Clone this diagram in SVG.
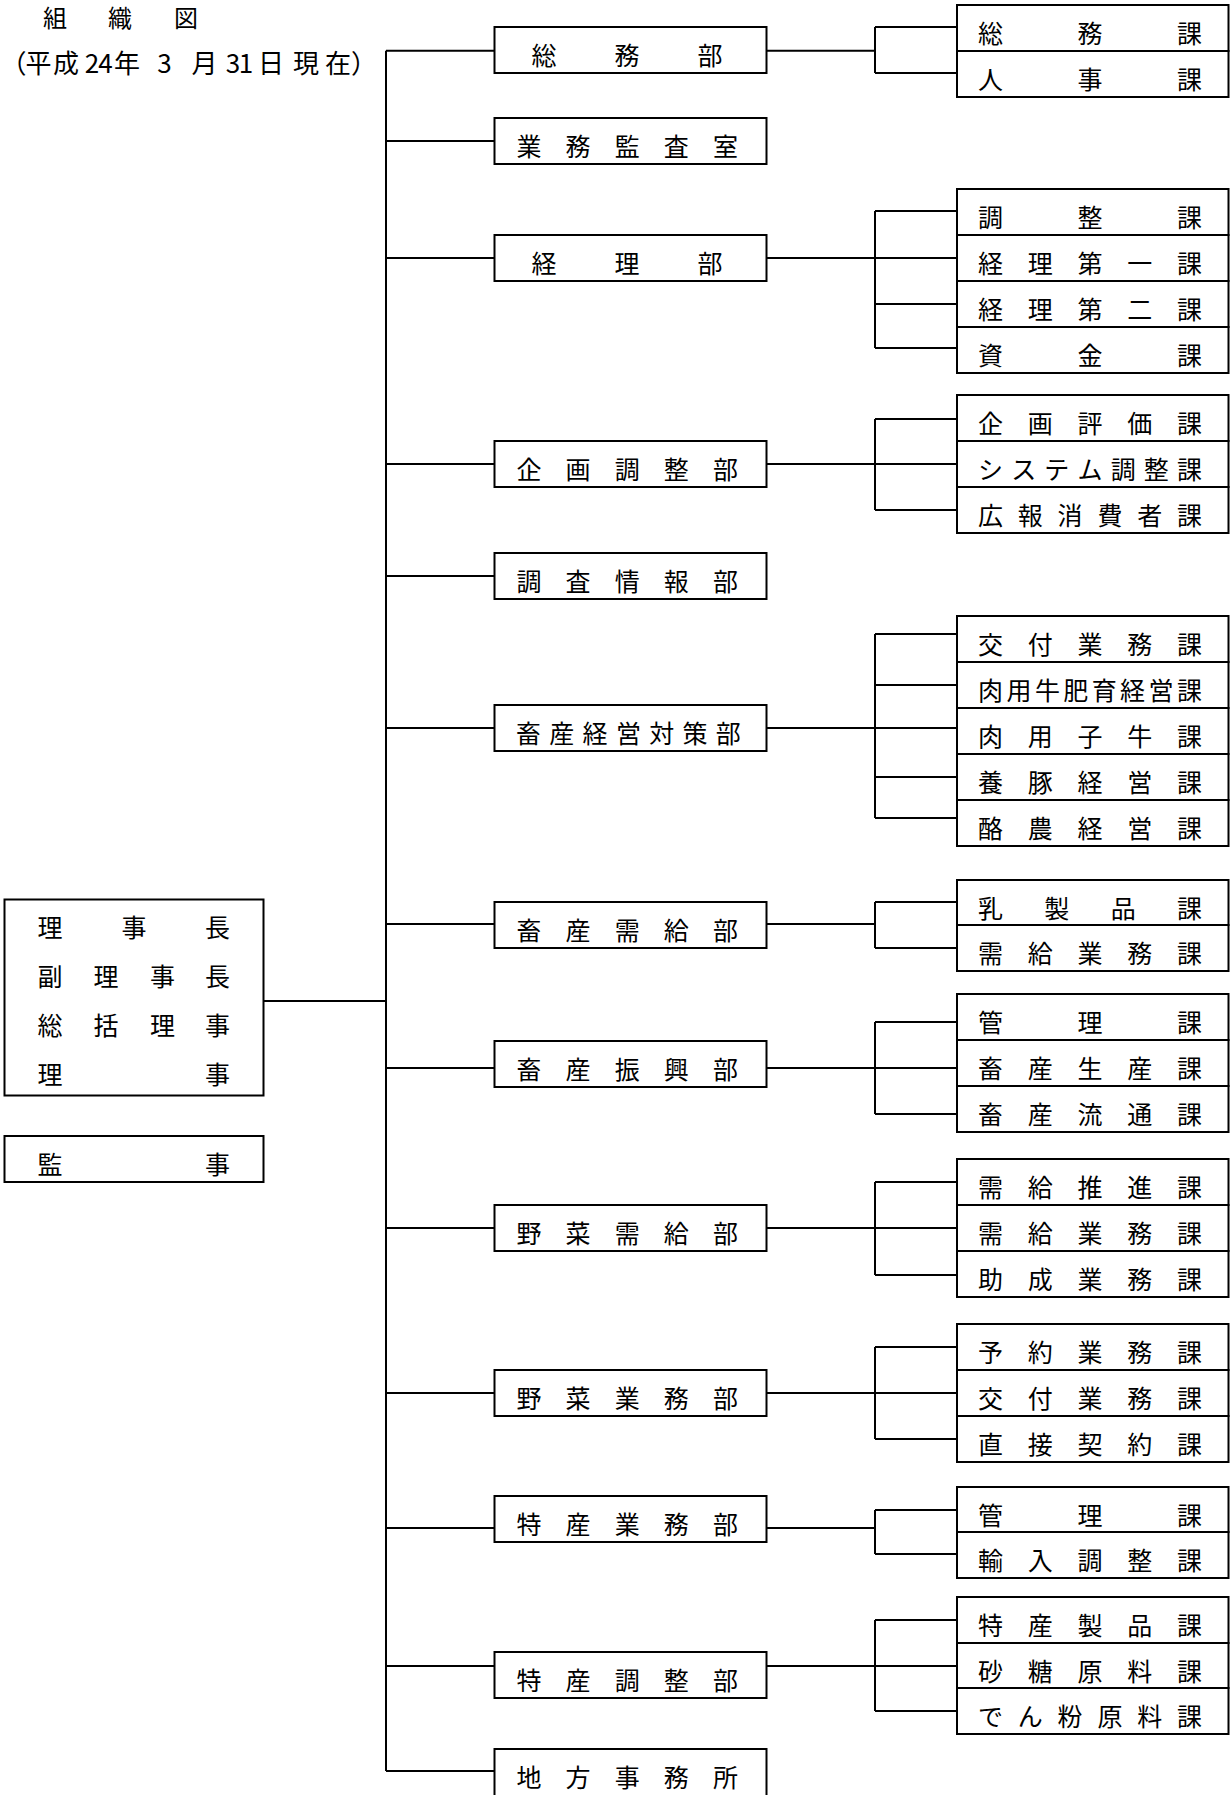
<svg xmlns="http://www.w3.org/2000/svg" width="1230" height="1795" viewBox="0 0 1230 1795">
<style>
rect{fill:#fff;stroke:#000;stroke-width:2}
text{font-family:"Noto Sans CJK JP","Noto Sans CJK SC",sans-serif;font-size:25px;fill:#000;text-anchor:middle}
.t{font-size:24px}
.d{font-size:26px}
#connectors path{fill:none;stroke:#000;stroke-width:2}
</style>
<g id="title">
<text class="t" x="55 120 186" y="27">組織図</text>
<text class="d" x="13.5 38.5 66 92 105.5 127 164.5 204.5 233 246 271 306 338 364" y="73">（平成24年3月31日現在）</text>
</g>
<g id="connectors">
<path d="M386 50.7V1771"/>
<path d="M263 1001H386"/>
<path d="M386 50.7H494M386 141H494M386 258H494M386 464H494M386 576H494M386 728H494M386 924H494M386 1068H494M386 1228H494M386 1393H494M386 1528H494M386 1666H494M386 1771H494"/>
<path d="M767 50.7H875M875 27V73M875 27H957M875 73H957"/>
<path d="M767 258H875M875 211V348M875 211H957M875 258H957M875 304H957M875 348H957"/>
<path d="M767 464H875M875 419V510M875 419H957M875 464H957M875 510H957"/>
<path d="M767 728H875M875 634V818M875 634H957M875 685H957M875 728H957M875 777H957M875 818H957"/>
<path d="M767 924H875M875 902V948M875 902H957M875 948H957"/>
<path d="M767 1068H875M875 1022V1114M875 1022H957M875 1068H957M875 1114H957"/>
<path d="M767 1228H875M875 1182V1275M875 1182H957M875 1228H957M875 1275H957"/>
<path d="M767 1393H875M875 1347V1439M875 1347H957M875 1393H957M875 1439H957"/>
<path d="M767 1528H875M875 1510V1554M875 1510H957M875 1554H957"/>
<path d="M767 1666H875M875 1620V1711M875 1620H957M875 1666H957M875 1711H957"/>
</g>
<g id="exec">
<rect x="4.5" y="899.5" width="259" height="196"/>
<text x="50 134 217.5" y="937">理事長</text>
<text x="50 106 162.5 217.5" y="986">副理事長</text>
<text x="50 106 162.5 217.5" y="1035">総括理事</text>
<text x="50 217.5" y="1084">理事</text>
</g>
<g id="auditor">
<rect x="4.5" y="1136" width="259" height="46"/>
<text x="50 217.5" y="1174">監事</text>
</g>
<g id="d-somu"><rect x="494.5" y="27" width="272" height="46"/><text x="544 627 710" y="64.5">総務部</text></g>
<g id="d-kansa"><rect x="494.5" y="118" width="272" height="46"/><text x="529 578.1 627.2 676.3 725.4" y="155.5">業務監査室</text></g>
<g id="d-keiri"><rect x="494.5" y="235" width="272" height="46"/><text x="544 627 710" y="272.5">経理部</text></g>
<g id="d-kikaku"><rect x="494.5" y="441" width="272" height="46"/><text x="529 578.1 627.2 676.3 725.4" y="478.5">企画調整部</text></g>
<g id="d-chosa"><rect x="494.5" y="553" width="272" height="46"/><text x="529 578.1 627.2 676.3 725.4" y="590.5">調査情報部</text></g>
<g id="d-chikusan-keiei"><rect x="494.5" y="705" width="272" height="46"/><text x="528.5 561.8 595.1 628.4 661.7 695 728.3" y="742.5">畜産経営対策部</text></g>
<g id="d-chikusan-jukyu"><rect x="494.5" y="902" width="272" height="46"/><text x="529 578.1 627.2 676.3 725.4" y="939.5">畜産需給部</text></g>
<g id="d-chikusan-shinko"><rect x="494.5" y="1041" width="272" height="46"/><text x="529 578.1 627.2 676.3 725.4" y="1078.5">畜産振興部</text></g>
<g id="d-yasai-jukyu"><rect x="494.5" y="1205" width="272" height="46"/><text x="529 578.1 627.2 676.3 725.4" y="1242.5">野菜需給部</text></g>
<g id="d-yasai-gyomu"><rect x="494.5" y="1370" width="272" height="46"/><text x="529 578.1 627.2 676.3 725.4" y="1407.5">野菜業務部</text></g>
<g id="d-tokusan-gyomu"><rect x="494.5" y="1496" width="272" height="46"/><text x="529 578.1 627.2 676.3 725.4" y="1533.5">特産業務部</text></g>
<g id="d-tokusan-chosei"><rect x="494.5" y="1652" width="272" height="46"/><text x="529 578.1 627.2 676.3 725.4" y="1689.5">特産調整部</text></g>
<g id="d-chiho"><rect x="494.5" y="1749" width="272" height="60"/><text x="529 578.1 627.2 676.3 725.4" y="1786.5">地方事務所</text></g>

<g id="s-somu"><rect x="957" y="5" width="271.5" height="46"/><text x="990.5 1090 1189.5" y="42.5">総務課</text></g>
<g id="s-jinji"><rect x="957" y="51" width="271.5" height="46"/><text x="990.5 1090 1189.5" y="88.5">人事課</text></g>

<g id="s-chosei"><rect x="957" y="189" width="271.5" height="46"/><text x="990.5 1090 1189.5" y="226.5">調整課</text></g>
<g id="s-keiri1"><rect x="957" y="235" width="271.5" height="46"/><text x="990.5 1040.3 1090 1139.8 1189.5" y="272.5">経理第一課</text></g>
<g id="s-keiri2"><rect x="957" y="281" width="271.5" height="46"/><text x="990.5 1040.3 1090 1139.8 1189.5" y="318.5">経理第二課</text></g>
<g id="s-shikin"><rect x="957" y="327" width="271.5" height="46"/><text x="990.5 1090 1189.5" y="364.5">資金課</text></g>

<g id="s-kikaku-hyoka"><rect x="957" y="395" width="271.5" height="46"/><text x="990.5 1040.3 1090 1139.8 1189.5" y="432.5">企画評価課</text></g>
<g id="s-system"><rect x="957" y="441" width="271.5" height="46"/><text x="990.5 1023.7 1056.8 1090 1123.2 1156.3 1189.5" y="478.5">システム調整課</text></g>
<g id="s-koho"><rect x="957" y="487" width="271.5" height="46"/><text x="990.5 1030.3 1070.1 1109.9 1149.7 1189.5" y="524.5">広報消費者課</text></g>

<g id="s-kofu1"><rect x="957" y="616" width="271.5" height="46"/><text x="990.5 1040.3 1090 1139.8 1189.5" y="653.5">交付業務課</text></g>
<g id="s-hiiku"><rect x="957" y="662" width="271.5" height="46"/><text x="990.5 1018.9 1047.4 1075.8 1104.2 1132.6 1161.1 1189.5" y="699.5">肉用牛肥育経営課</text></g>
<g id="s-koushi"><rect x="957" y="708" width="271.5" height="46"/><text x="990.5 1040.3 1090 1139.8 1189.5" y="745.5">肉用子牛課</text></g>
<g id="s-yoton"><rect x="957" y="754" width="271.5" height="46"/><text x="990.5 1040.3 1090 1139.8 1189.5" y="791.5">養豚経営課</text></g>
<g id="s-rakuno"><rect x="957" y="800" width="271.5" height="46"/><text x="990.5 1040.3 1090 1139.8 1189.5" y="837.5">酪農経営課</text></g>

<g id="s-nyuseihin"><rect x="957" y="880" width="271.5" height="45"/><text x="990.5 1056.8 1123.2 1189.5" y="917.5">乳製品課</text></g>
<g id="s-jukyu-gyomu1"><rect x="957" y="925" width="271.5" height="46"/><text x="990.5 1040.3 1090 1139.8 1189.5" y="962.5">需給業務課</text></g>

<g id="s-kanri1"><rect x="957" y="994" width="271.5" height="46"/><text x="990.5 1090 1189.5" y="1031.5">管理課</text></g>
<g id="s-seisan"><rect x="957" y="1040" width="271.5" height="46"/><text x="990.5 1040.3 1090 1139.8 1189.5" y="1077.5">畜産生産課</text></g>
<g id="s-ryutsu"><rect x="957" y="1086" width="271.5" height="46"/><text x="990.5 1040.3 1090 1139.8 1189.5" y="1123.5">畜産流通課</text></g>

<g id="s-suishin"><rect x="957" y="1159" width="271.5" height="46"/><text x="990.5 1040.3 1090 1139.8 1189.5" y="1196.5">需給推進課</text></g>
<g id="s-jukyu-gyomu2"><rect x="957" y="1205" width="271.5" height="46"/><text x="990.5 1040.3 1090 1139.8 1189.5" y="1242.5">需給業務課</text></g>
<g id="s-josei"><rect x="957" y="1251" width="271.5" height="46"/><text x="990.5 1040.3 1090 1139.8 1189.5" y="1288.5">助成業務課</text></g>

<g id="s-yoyaku"><rect x="957" y="1324" width="271.5" height="46"/><text x="990.5 1040.3 1090 1139.8 1189.5" y="1361.5">予約業務課</text></g>
<g id="s-kofu2"><rect x="957" y="1370" width="271.5" height="46"/><text x="990.5 1040.3 1090 1139.8 1189.5" y="1407.5">交付業務課</text></g>
<g id="s-chokusetsu"><rect x="957" y="1416" width="271.5" height="46"/><text x="990.5 1040.3 1090 1139.8 1189.5" y="1453.5">直接契約課</text></g>

<g id="s-kanri2"><rect x="957" y="1487" width="271.5" height="45"/><text x="990.5 1090 1189.5" y="1524.5">管理課</text></g>
<g id="s-yunyu"><rect x="957" y="1532" width="271.5" height="46"/><text x="990.5 1040.3 1090 1139.8 1189.5" y="1569.5">輸入調整課</text></g>

<g id="s-seihin"><rect x="957" y="1597" width="271.5" height="46"/><text x="990.5 1040.3 1090 1139.8 1189.5" y="1634.5">特産製品課</text></g>
<g id="s-sato"><rect x="957" y="1643" width="271.5" height="45"/><text x="990.5 1040.3 1090 1139.8 1189.5" y="1680.5">砂糖原料課</text></g>
<g id="s-denpun"><rect x="957" y="1688" width="271.5" height="46"/><text x="990.5 1030.3 1070.1 1109.9 1149.7 1189.5" y="1725.5">でん粉原料課</text></g>
</svg>
